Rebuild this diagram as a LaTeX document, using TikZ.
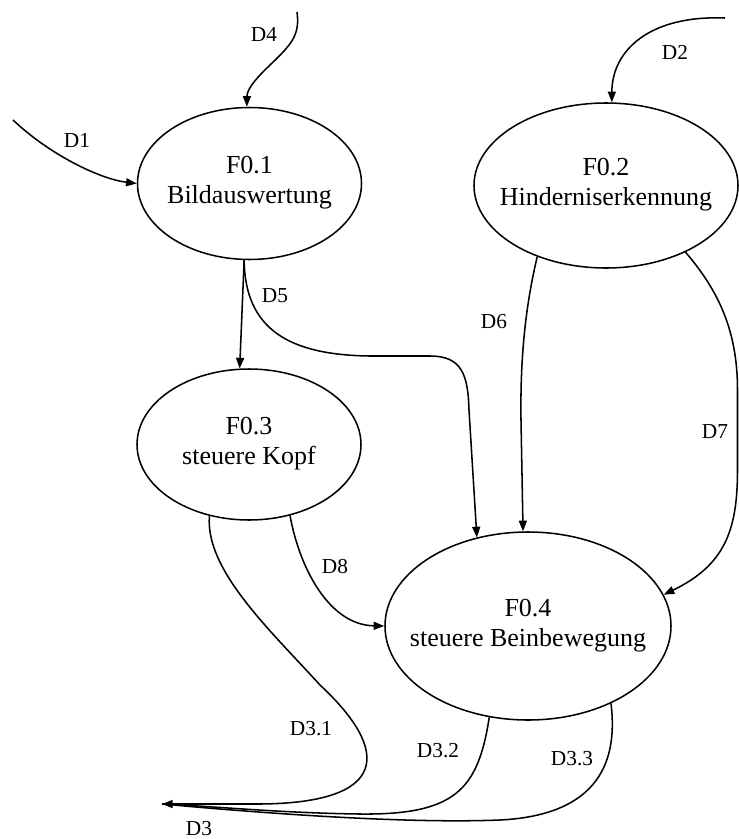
\documentclass[tikz,border=0pt]{standalone}
\usepackage{fontspec}
\setmainfont{Liberation Serif}
\usetikzlibrary{arrows.meta,shapes.geometric}

\newcommand{\fnfont}{\fontsize{19.5}{22.5}\selectfont}
\newcommand{\flowfont}{\fontsize{16}{19}\selectfont}

\tikzset{
  func/.style={draw, ellipse, inner sep=0pt, line width=1.15pt},
  fname/.style={align=center, font=\fnfont, yshift=0.5pt},
  flow/.style={line width=1.15pt},
  arr/.style={flow, -{Triangle[length=8pt,width=6pt]}},
  flowlabel/.style={font=\flowfont, inner sep=0pt},
}

\begin{document}
\begin{tikzpicture}[x=0.75pt, y=-0.75pt]
  \useasboundingbox (0,0) rectangle (739,839);

  % processes
  \node[func, minimum width=168pt, minimum height=114pt,
        label={[fname]center:F0.1\\Bildauswertung}] (f1) at (249.5,183.5) {};
  \node[func, minimum width=198pt, minimum height=123.75pt,
        label={[fname]center:F0.2\\Hinderniserkennung}] (f2) at (606,185.5) {};
  \node[func, minimum width=168pt, minimum height=113.25pt,
        label={[fname]center:F0.3\\steuere Kopf}] (f3) at (249,444.5) {};
  \node[func, minimum width=214.5pt, minimum height=141pt,
        label={[fname]center:F0.4\\steuere Beinbewegung}] (f4) at (528,626) {};

  % external ends of the data flows
  \coordinate (d1in) at (13,120);
  \coordinate (d4in) at (297,12);
  \coordinate (d2in) at (725,18);
  \coordinate (d3out) at (162,804);

  % inputs
  \draw[arr] (d1in) .. controls (50,155) and (100,179) .. (f1.west);
  \draw[arr] (d4in) .. controls (300,35) and (292,44) .. (270,65)
                    .. controls (250,84) and (247,92) .. (f1.92);
  \draw[arr] (d2in) .. controls (650,15) and (612,50) .. (f2.86);

  % D5
  \draw[arr] (f1.-94) -- (f3.97);
  \draw[arr] (f1.-94) .. controls (245,330) and (290,355) .. (370,356)
                      -- (430,356)
                      .. controls (462,356) and (468,375) .. (469,410)
                      -- (f4.120);

  % D6, D7
  \draw[arr] (f2.-134) .. controls (527,300) and (520,350) .. (521,420)
                       -- (f4.93.5);
  \draw[arr] (f2.-40) .. controls (718,290) and (737.5,330) .. (737.5,390)
                      -- (737.5,470)
                      .. controls (737.5,530) and (725,565) .. (f4.13);

  % D8
  \draw[arr] (f3.-60) .. controls (300,570) and (330,625) .. (f4.west);

  % D3.1 .. D3.3 merging into D3
  \draw[arr] (f3.-119) .. controls (205,570) and (270,630) .. (320,685)
                       .. controls (392,752) and (388,803) .. (260,804)
                       -- (d3out);
  \draw[flow] (f4.-113.5) .. controls (478,790) and (455,815) .. (360,814)
                          .. controls (280,813) and (210,806) .. (d3out);
  \draw[flow] (f4.-43) .. controls (618,760) and (600,815) .. (500,820)
                       .. controls (400,824) and (250,812) .. (d3out);

  % flow labels
  \node[flowlabel] (lD1) at (77,140) {D1};
  \node[flowlabel] (lD4) at (264,34) {D4};
  \node[flowlabel] (lD2) at (675,52) {D2};
  \node[flowlabel] (lD5) at (275,296) {D5};
  \node[flowlabel] (lD6) at (494,322) {D6};
  \node[flowlabel] (lD7) at (715,432) {D7};
  \node[flowlabel] (lD8) at (335,567) {D8};
  \node[flowlabel] (lD31) at (311,729) {D3.1};
  \node[flowlabel] (lD32) at (438,751) {D3.2};
  \node[flowlabel] (lD33) at (572,759) {D3.3};
  \node[flowlabel] (lD3) at (199,829) {D3};
\end{tikzpicture}
\end{document}
